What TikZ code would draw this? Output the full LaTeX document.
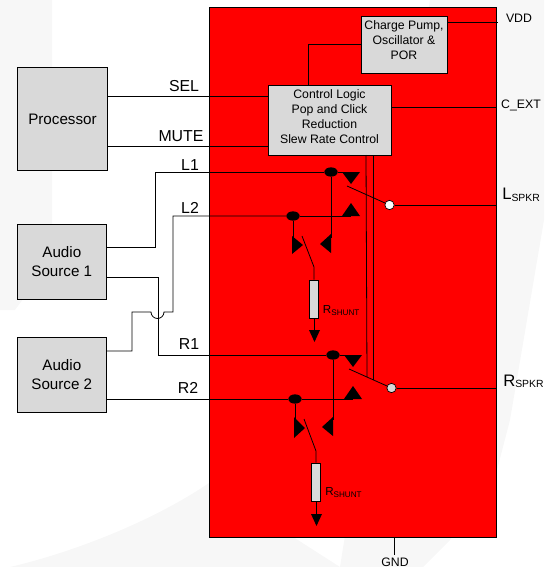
\documentclass[tikz,border=0pt]{standalone}
\usepackage{fontspec}
\setmainfont{Liberation Sans}
\usetikzlibrary{calc,shapes.geometric}

\begin{document}
\begin{tikzpicture}[x=0.75pt,y=-0.75pt,
    block/.style={draw=black, fill=black!15, line width=0.7pt, align=center, inner sep=0pt, anchor=north west},
    small/.style={align=center, inner sep=0pt, font=\fontsize{9.2pt}{11.25pt}\selectfont},
    large/.style={font=\fontsize{11.4pt}{13.9pt}\selectfont},
    wire/.style={draw=black, line width=0.6pt},
    lab/.style={font=\fontsize{11.9pt}{14pt}\selectfont, inner sep=0pt},
    pin/.style={font=\fontsize{9.2pt}{11pt}\selectfont, inner sep=0pt},
    spkr/.style={inner sep=0pt, anchor=base west, font=\fontsize{12.5pt}{14pt}\selectfont},
    shunt/.style={inner sep=0pt, anchor=base west, font=\fontsize{8.7pt}{10pt}\selectfont},
    tri/.style={fill=black, draw=none},
    dot/.style={ellipse, fill=black, minimum width=10pt, minimum height=7pt, inner sep=0pt},
    res/.style={draw=black, fill=black!15, line width=0.5pt, minimum width=6.5pt, minimum height=28.5pt, inner sep=0pt},
    tap/.style={circle, draw=black, line width=0.5pt, minimum size=7pt, inner sep=0pt},
    shade/.style={fill=black!3, draw=none}]
    \useasboundingbox (0,0) rectangle (544,567);

    % faint backdrop
    \fill[shade] (0,0) -- (52,0) -- (52,260) -- (15,310) -- (0,310) -- cycle;
    \fill[shade] (430,0) -- (544,0) -- (544,220) -- (510,420) -- (497,470) -- (450,540) -- (423,567) -- (340,567) -- cycle;
    \fill[shade] (10,567) .. controls (70,553) and (150,523) .. (209,483) -- (340,567) -- cycle;

    \node[draw=black, fill=red, line width=0.7pt, minimum width=215.25pt, minimum height=397.5pt, anchor=north west, inner sep=0pt] (CHIP) at (209,7) {};

    \node[block, minimum width=64.5pt, minimum height=42.75pt] (PUMP) at (361,16) {};
    \node[small] (PUMPTXT) at (404,40) {Charge Pump,\\Oscillator \&\\POR};
    \node[block, minimum width=92.25pt, minimum height=52.5pt] (CTRL) at (268,85) {};
    \node[small] (CTRLTXT) at (329.5,116.5) {Control Logic\\Pop and Click\\Reduction\\Slew Rate Control};
    \node[block, large, minimum width=67.5pt, minimum height=77.25pt] (PROC) at (17,67) {Processor};
    \node[block, large, minimum width=66.5pt, minimum height=56pt] (SRC1) at (17,224) {Audio\\Source 1};
    \node[block, large, minimum width=66.5pt, minimum height=56pt] (SRC2) at (17,337) {Audio\\Source 2};

    % junctions
    \node[dot] (DL1) at (331,172) {};
    \node[dot] (DL2) at (293,216) {};
    \node[dot] (DR1) at (333,355) {};
    \node[dot] (DR2) at (295,399) {};
    \node[tap, fill=white] (OL) at (389.5,205) {};
    \node[tap, fill=black!15] (OR) at (391.5,388) {};
    \node[res] (RL) at (314,299) {};
    \node[res] (RR) at (316,482) {};

    % labels
    \node[lab] (SEL) at (184,86) {SEL};
    \node[lab] (MUTE) at (181,136.5) {MUTE};
    \node[lab] (L1) at (190,165) {L1};
    \node[lab] (L2) at (190,208) {L2};
    \node[lab] (R1) at (189,344) {R1};
    \node[lab] (R2) at (188,388) {R2};
    \node[pin] (VDD) at (519,18) {VDD};
    \node[pin] (CEXT) at (521,105) {C\_EXT};
    \node[pin] (GND) at (395,562) {GND};
    \node[spkr] (LSPKR) at (502,199) {L\raisebox{-1.5pt}{\fontsize{7.8pt}{9pt}\selectfont SPKR}};
    \node[spkr] (RSPKR) at (503,386) {R\raisebox{-1.2pt}{\fontsize{7.8pt}{9pt}\selectfont SPKR}};
    \node[shunt] (SHL) at (322.7,313.3) {R\raisebox{-1.3pt}{\fontsize{6.1pt}{8pt}\selectfont SHUNT}};
    \node[shunt] (SHR) at (325,495.7) {R\raisebox{-1.4pt}{\fontsize{6.1pt}{8pt}\selectfont SHUNT}};

    % control and supply lines
    \draw[wire] (PUMP.east |- 0,22) -- (498,22);
    \draw[wire] (PUMP.west |- 0,44) -- (308,44) -- (308,85);
    \draw[wire] (CTRL.east |- 0,107) -- (496,107);
    \draw[wire] (PROC.east |- 0,96) -- (CTRL.west |- 0,96);
    \draw[wire] (PROC.east |- 0,146) -- (CTRL.west |- 0,146);
    \draw[wire] (366,155) -- (367,377);
    \draw[wire] (373,155) -- (373,380);
    \draw[wire] (394,537) -- (394,555);

    % inputs
    \draw[wire] (SRC1.east |- 0,247) -- (155,247) -- (155,172) -- (DL1);
    \draw[wire] (SRC2.east |- 0,351) -- (132,351) -- (132,312) -- (151,312) arc[start angle=180, end angle=0, radius=6.5] -- (173,312) -- (173,216) -- (DL2);
    \draw[wire] (SRC1.east |- 0,277) -- (158,277) -- (158,355) -- (DR1);
    \draw[wire] (SRC2.east |- 0,399) -- (DR2);
    \draw[wire] (DL1) -- (351,172);
    \draw[wire] (DL2) -- (351,216);
    \draw[wire] (DR1) -- (353,355);
    \draw[wire] (DR2) -- (353,399);

    % left channel switches
    \fill[tri] (342,172) -- (360,172) -- (351,184) -- cycle;
    \fill[tri] (342,216) -- (360,216) -- (351,203) -- cycle;
    \draw[wire] (DL2) -- (293,238);
    \draw[wire] (DL1) -- (331,238);
    \fill[tri] (292,236) -- (303,245) -- (292,254) -- cycle;
    \fill[tri] (331,234) -- (320,244) -- (331,253) -- cycle;
    \draw[wire] (302,236) -- (314,267) -- (RL.north);
    \draw[wire] (RL.south) -- (314,332);
    \fill[tri] (309,330) -- (320,330) -- (314.5,342) -- cycle;
    \draw[wire] (347,186) -- (OL);
    \draw[wire] (OL) -- (496,205);

    % right channel switches
    \fill[tri] (344,355) -- (362,355) -- (353,367) -- cycle;
    \fill[tri] (344,399) -- (362,399) -- (353,386) -- cycle;
    \draw[wire] (DR2) -- (295,420);
    \draw[wire] (DR1) -- (333,420);
    \fill[tri] (294,417) -- (305,428) -- (294,438) -- cycle;
    \fill[tri] (333,417) -- (322,427) -- (333,436) -- cycle;
    \draw[wire] (304,419) -- (316,451) -- (RR.north);
    \draw[wire] (RR.south) -- (316,516);
    \fill[tri] (311,514) -- (322,514) -- (316.5,526) -- cycle;
    \draw[wire] (349,369) -- (OR);
    \draw[wire] (OR) -- (496,388);
\end{tikzpicture}
\end{document}
